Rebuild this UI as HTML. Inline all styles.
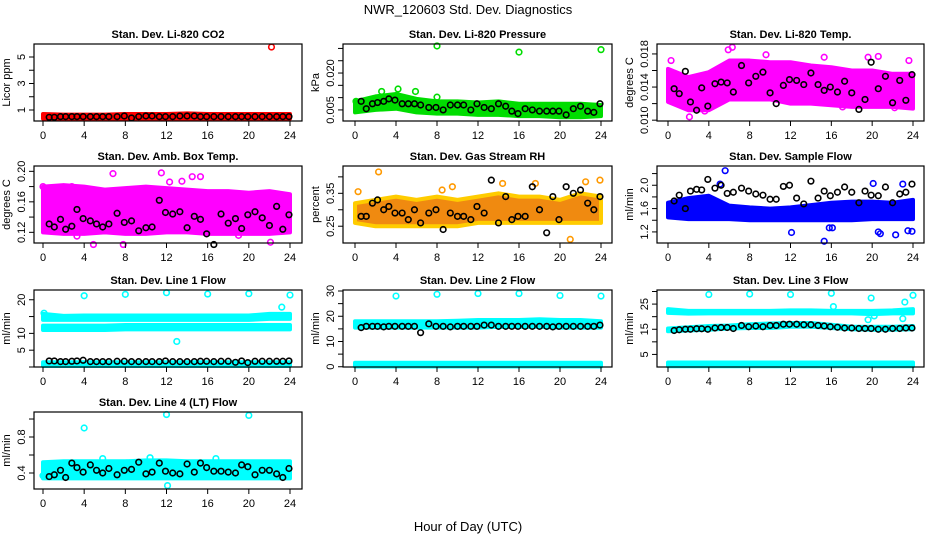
<!DOCTYPE html>
<html><head><meta charset="utf-8"><style>
body{margin:0;background:#fff}
svg{display:block;font-family:"Liberation Sans",sans-serif}
</style></head><body>
<svg id="c" width="936" height="540" viewBox="0 0 936 540">
<rect width="936" height="540" fill="#fff"/>
<text x="468" y="14" text-anchor="middle" font-size="13">NWR_120603  Std. Dev. Diagnostics</text>
<text x="468" y="531" text-anchor="middle" font-size="13">Hour of Day (UTC)</text>
</svg>
<script>
// shared hours
const bandHours = [0,2,4,6,8,10,12,14,16,18,20,22,24];
const blackHours = [0.6,1.1,1.7,2.2,2.8,3.3,3.9,4.6,5.2,5.8,6.4,7.2,7.9,8.6,9.3,10,10.6,11.3,11.9,12.6,13.3,14,14.7,15.3,15.9,16.6,17.3,18,18.7,19.3,19.9,20.6,21.3,22,22.7,23.3,23.9];
const xTicks = [0,4,8,12,16,20,24];

// CO2
const co2Lo = [0.35,0.35,0.35,0.35,0.35,0.35,0.35,0.35,0.35,0.35,0.35,0.35,0.35];
const co2Hi = [0.7,0.65,0.65,0.65,0.7,0.7,0.7,0.75,0.7,0.7,0.7,0.7,0.7];
const co2OutX = [22.2];
const co2OutY = [5.75];
const co2Black = [0.45,0.45,0.5,0.5,0.5,0.5,0.5,0.5,0.5,0.5,0.5,0.5,0.55,0.4,0.5,0.55,0.55,0.5,0.5,0.5,0.55,0.55,0.55,0.5,0.5,0.5,0.5,0.5,0.5,0.5,0.5,0.5,0.5,0.5,0.5,0.5,0.5];
// Pressure
const prLo = [0.004,0.005,0.0055,0.004,0.0035,0.0035,0.003,0.003,0.0025,0.0025,0.002,0.002,0.0025];
const prHi = [0.0085,0.0105,0.0115,0.0095,0.0085,0.0085,0.008,0.0085,0.0075,0.0075,0.0075,0.0075,0.007];
const prOutX = [8,16,24,4.2,5.9,2.6,8,0.1];
const prOutY = [0.031,0.0285,0.0295,0.0135,0.0125,0.0125,0.0102,0.0085];
const prBlack = [0.0085,0.0055,0.0075,0.008,0.0085,0.0095,0.009,0.0075,0.0075,0.0075,0.007,0.006,0.006,0.005,0.007,0.007,0.007,0.005,0.0075,0.006,0.0055,0.0075,0.0065,0.0045,0.0035,0.0055,0.005,0.0045,0.0045,0.0045,0.0045,0.003,0.0055,0.0065,0.0045,0.004,0.0075];
// Temp
const tLo = [0.0122,0.0112,0.0112,0.0125,0.0125,0.0125,0.012,0.012,0.0118,0.0116,0.0116,0.0116,0.0114];
const tHi = [0.0162,0.0152,0.0158,0.0172,0.0172,0.017,0.017,0.0166,0.0164,0.016,0.016,0.0156,0.0156];
const tOutX = [0.3,2.1,3.6,5.9,6.3,9.6,15.3,17.1,19.6,20.6,22.2,23.6];
const tOutY = [0.0172,0.0104,0.0111,0.0185,0.0188,0.0179,0.0176,0.0116,0.0176,0.0177,0.0115,0.0172];
const tBlack = [0.0138,0.0132,0.0159,0.0122,0.0112,0.0139,0.0117,0.0144,0.0146,0.0145,0.0134,0.0166,0.0145,0.0153,0.0158,0.0133,0.0120,0.0142,0.0149,0.0148,0.0143,0.0157,0.0143,0.0136,0.0140,0.0134,0.0147,0.0133,0.0113,0.0125,0.0170,0.0138,0.0153,0.0121,0.0148,0.0124,0.0155];
// Amb box
const aLo = [0.12,0.118,0.118,0.12,0.118,0.118,0.12,0.12,0.118,0.118,0.118,0.118,0.12];
const aHi = [0.18,0.182,0.18,0.176,0.178,0.18,0.178,0.176,0.174,0.174,0.172,0.174,0.17];
const aOutX = [0,2.8,4.9,6.8,7.8,11.5,12.3,13.5,14.5,15.3,19.0,22.1,3.3];
const aOutY = [0.18,0.18,0.104,0.197,0.104,0.198,0.186,0.187,0.193,0.193,0.116,0.107,0.115];
const aBlack = [0.131,0.127,0.137,0.124,0.128,0.150,0.138,0.135,0.131,0.127,0.131,0.145,0.133,0.135,0.122,0.126,0.127,0.162,0.146,0.144,0.147,0.126,0.141,0.137,0.118,0.104,0.144,0.132,0.138,0.125,0.143,0.147,0.139,0.129,0.154,0.124,0.143];
// RH
const rLo = [0.26,0.25,0.25,0.25,0.25,0.25,0.26,0.26,0.26,0.26,0.26,0.26,0.26];
const rHi = [0.32,0.33,0.34,0.33,0.34,0.33,0.34,0.35,0.34,0.34,0.33,0.35,0.34];
const rOutX = [2.3,8.5,9.5,14.4,17.6,21,22.5,23.9,0.3];
const rOutY = [0.415,0.36,0.37,0.38,0.38,0.21,0.385,0.39,0.355];
const rBlack = [0.28,0.28,0.32,0.33,0.30,0.31,0.29,0.29,0.27,0.30,0.26,0.29,0.30,0.24,0.29,0.28,0.28,0.27,0.31,0.29,0.39,0.26,0.34,0.27,0.28,0.28,0.37,0.30,0.23,0.34,0.27,0.37,0.35,0.36,0.32,0.30,0.34];
// Sample flow
const sLo = [1.45,1.42,1.42,1.42,1.4,1.4,1.4,1.4,1.4,1.4,1.42,1.42,1.42];
const sHi = [1.7,1.78,1.82,1.65,1.62,1.6,1.62,1.66,1.7,1.72,1.72,1.7,1.75];
const sOutX = [5.6,5.1,15.3,15.8,16.1,12.1,20.6,20.8,22.3,23.5,23.9,20.1,23.0];
const sOutY = [2.25,2.02,1.04,1.27,1.27,1.19,1.2,1.17,1.15,1.22,1.21,2.03,2.02];
const sBlack = [1.73,1.83,1.6,1.9,1.93,1.92,2.1,1.95,2.0,1.86,1.88,1.95,1.9,1.85,1.83,1.76,1.76,1.98,2.0,1.78,1.68,2.07,1.78,1.9,1.82,1.88,1.97,1.88,1.7,1.9,1.83,1.82,1.97,1.7,1.85,1.88,2.02];
// Line 1
const l1aLo = [14,14,14,14,14,14,14,14,14,14,14,14.3,14.3];
const l1aHi = [15.8,15.2,15.3,15.3,15.3,15.3,15.3,15.3,15.3,15.3,15.3,15.8,15.8];
const l1bLo = [11,11,11,11,11.2,11.2,11.2,11.2,11.2,11.2,11.2,11.2,11.2];
const l1bHi = [12.3,12.3,12.3,12.3,12.5,12.5,12.5,12.5,12.5,12.5,12.5,12.5,12.5];
const l1cLo = [0.3,0.3,0.3,0.3,0.3,0.3,0.3,0.3,0.3,0.3,0.3,0.3,0.3];
const l1cHi = [1.4,1.4,1.4,1.4,1.4,1.4,1.4,1.4,1.4,1.4,1.4,1.4,1.4];
const l1OutX = [4,8,12,16,20,24,13,23.2,0.1];
const l1OutY = [21.2,21.6,22.1,21.7,21.8,21.4,7.6,17.8,16];
const l1Black = [1.8,1.8,1.6,1.6,1.7,1.8,2,1.6,1.6,1.6,1.6,1.7,1.7,1.6,1.6,1.6,1.6,1.6,1.8,1.6,1.6,1.6,1.6,1.7,1.7,1.6,1.7,1.7,1.4,1.8,1.3,1.7,1.7,1.7,1.7,1.7,1.8];
// Line 2
const l2aLo = [15.5,15.5,15.5,15.5,15.5,15.5,15.5,15.8,15.8,15.8,15.5,15.5,15.5];
const l2aHi = [18,18,18,18,18,18.2,18.5,18.5,18.5,18.8,18.5,18.5,18];
const l2bLo = [0.1,0.1,0.1,0.1,0.1,0.1,0.1,0.1,0.1,0.1,0.1,0.1,0.1];
const l2bHi = [1.6,1.6,1.6,1.6,1.6,1.6,1.6,1.6,1.6,1.6,1.6,1.6,1.6];
const l2OutX = [4,8,12,16,20,24];
const l2OutY = [28,28.7,29,29,28.2,28];
const l2Black = [15.5,16,16,16,15.8,16,16,16,16,16,13.5,17,16,16,15.8,16,16,16,16,16.5,16.5,16,16,16,16,16,16,16,16,15.8,16,16,16,16,16,16,16.5];
// Line 3
const l3aLo = [21.5,21.2,21.3,21.3,21.3,21.3,21.3,21.3,21.3,21.3,21,21.3,21.3];
const l3aHi = [23,22.3,22.3,22.3,22.3,22.3,22.5,22.5,22.3,22.3,22.3,22.5,23];
const l3bLo = [14.2,14.5,14.8,15.3,15.5,15.5,16,16,15.5,15,14.8,14.8,15];
const l3bHi = [15.3,15.8,16.3,16.5,17,17.3,17.5,17.5,16.8,16,16,16,16.3];
const l3cLo = [0.3,0.3,0.3,0.3,0.3,0.3,0.3,0.3,0.3,0.3,0.3,0.3,0.3];
const l3cHi = [1.8,1.8,1.8,1.8,1.8,1.8,1.8,1.8,1.8,1.8,1.8,1.8,1.8];
const l3OutX = [4,8,12,16,16.2,19.9,19.6,23.2,24,23,20.2];
const l3OutY = [28.8,29,28.8,29.3,24,27.4,18.8,25.8,28.5,19.2,20.3];
const l3Black = [14.5,14.8,15,15,15.2,15.2,15,15.5,15.7,15.7,15.3,16.5,16,16.3,16,16.5,16.5,17,17,17,16.8,16.8,16.5,16.3,16,15.8,15.5,15.5,15.3,15.3,15.3,15,15,15.3,15.3,15.5,15.5];
// Line 4
const l4Lo = [0.34,0.34,0.34,0.34,0.34,0.34,0.34,0.34,0.34,0.34,0.34,0.34,0.34];
const l4Hi = [0.52,0.53,0.53,0.53,0.53,0.54,0.54,0.53,0.53,0.53,0.53,0.53,0.53];
const l4OutX = [4,12,20,12.1,16.8,5.8,10.4,0];
const l4OutY = [0.9,1.05,1.04,0.26,0.56,0.56,0.57,0.37];
const l4Black = [0.36,0.38,0.43,0.35,0.51,0.46,0.41,0.49,0.43,0.40,0.45,0.38,0.43,0.44,0.52,0.39,0.41,0.51,0.42,0.40,0.39,0.50,0.41,0.51,0.46,0.42,0.42,0.41,0.40,0.49,0.47,0.38,0.43,0.43,0.39,0.35,0.45];

const NS = "http://www.w3.org/2000/svg";
const svg = document.getElementById('c');
function mk(tag, attrs, parent){
  const e = document.createElementNS(NS, tag);
  for (const k in attrs) e.setAttribute(k, attrs[k]);
  (parent || svg).appendChild(e);
  return e;
}
const cols = [{l:34,r:302,x0:43,x24:290},{l:343,r:612,x0:355,x24:601},{l:657,r:924,x0:668,x24:913}];
const rows = [44,166,290,412];
const H = 77;

const panels = [
 {c:0,r:0,name:'co2',title:'Stan. Dev. Li-820 CO2',ylab:'Licor ppm',ymin:0.17,ymax:5.98,ticks:[1,2,3,4,5],labs:[1,3,5],fmt:v=>v,color:'#ff0000',bands:[[co2Lo,co2Hi]],ox:co2OutX,oy:co2OutY,blk:co2Black},
 {c:1,r:0,name:'pressure',title:'Stan. Dev. Li-820 Pressure',ylab:'kPa',ymin:0.0005,ymax:0.0318,ticks:[0.005,0.01,0.015,0.02,0.025,0.03],labs:[0.005,0.02],fmt:v=>v.toFixed(3),color:'#00dd00',bands:[[prLo,prHi]],ox:prOutX,oy:prOutY,blk:prBlack},
 {c:2,r:0,name:'temp',title:'Stan. Dev. Li-820 Temp.',ylab:'degrees C',ymin:0.0099,ymax:0.0192,ticks:[0.01,0.012,0.014,0.016,0.018],labs:[0.01,0.014,0.018],fmt:v=>v.toFixed(3),color:'#ff00ff',bands:[[tLo,tHi]],ox:tOutX,oy:tOutY,blk:tBlack},
 {c:0,r:1,name:'amb-box',title:'Stan. Dev. Amb. Box Temp.',ylab:'degrees C',ymin:0.106,ymax:0.207,ticks:[0.12,0.14,0.16,0.18,0.2],labs:[0.12,0.16,0.2],fmt:v=>v.toFixed(2),color:'#ff00ff',bands:[[aLo,aHi]],ox:aOutX,oy:aOutY,blk:aBlack},
 {c:1,r:1,name:'rh',title:'Stan. Dev. Gas Stream RH',ylab:'percent',ymin:0.199,ymax:0.433,ticks:[0.25,0.3,0.35,0.4],labs:[0.25,0.35],fmt:v=>v.toFixed(2),color:'#f5a000',bands:[[rLo,rHi]],ox:rOutX,oy:rOutY,blk:rBlack},
 {c:2,r:1,name:'sample-flow',title:'Stan. Dev. Sample Flow',ylab:'ml/min',ymin:1.01,ymax:2.33,ticks:[1.2,1.4,1.6,1.8,2.0,2.2],labs:[1.2,1.6,2.0],fmt:v=>v.toFixed(1),color:'#0000ff',bands:[[sLo,sHi]],ox:sOutX,oy:sOutY,blk:sBlack},
 {c:0,r:2,name:'line1',title:'Stan. Dev. Line 1 Flow',ylab:'ml/min',ymin:0.0,ymax:22.9,ticks:[0,5,10,15,20],labs:[5,10,20],fmt:v=>v,color:'#00ffff',bands:[[l1aLo,l1aHi],[l1bLo,l1bHi],[l1cLo,l1cHi]],ox:l1OutX,oy:l1OutY,blk:l1Black},
 {c:1,r:2,name:'line2',title:'Stan. Dev. Line 2 Flow',ylab:'ml/min',ymin:-0.1,ymax:30.4,ticks:[0,5,10,15,20,25,30],labs:[0,10,20,30],fmt:v=>v,color:'#00ffff',bands:[[l2aLo,l2aHi],[l2bLo,l2bHi]],ox:l2OutX,oy:l2OutY,blk:l2Black},
 {c:2,r:2,name:'line3',title:'Stan. Dev. Line 3 Flow',ylab:'ml/min',ymin:0.0,ymax:30.6,ticks:[5,10,15,20,25,30],labs:[5,15,25],fmt:v=>v,color:'#00ffff',bands:[[l3aLo,l3aHi],[l3bLo,l3bHi],[l3cLo,l3cHi]],ox:l3OutX,oy:l3OutY,blk:l3Black},
 {c:0,r:3,name:'line4',title:'Stan. Dev. Line 4 (LT) Flow',ylab:'ml/min',ymin:0.222,ymax:1.078,ticks:[0.4,0.6,0.8,1.0],labs:[0.4,0.8],fmt:v=>v.toFixed(1),color:'#00ffff',bands:[[l4Lo,l4Hi]],ox:l4OutX,oy:l4OutY,blk:l4Black}
];

panels.forEach(p=>{
  const col = cols[p.c], top = rows[p.r], bot = top + H;
  const xs = h => col.x0 + h*(col.x24-col.x0)/24;
  const ys = v => bot - (v-p.ymin)/(p.ymax-p.ymin)*H;
  const g = mk('g', {});
  
  
  const t = mk('text', {x:(col.l+col.r)/2, y:top-6, 'text-anchor':'middle','font-size':11,'font-weight':'bold'}, g);
  t.textContent = p.title;
  
  
  p.bands.forEach((b,bi)=>{
    let pts = bandHours.map((h,i)=>xs(h)+','+ys(b[1][i]));
    pts = pts.concat(bandHours.map((h,i)=>xs(h)+','+ys(b[0][i])).reverse());
    const poly = mk('polygon', {points:pts.join(' '), fill:p.color, stroke:p.color, 'stroke-width':4, 'stroke-linejoin':'round'}, g);
    
    
    if (p.name==='rh') { poly.setAttribute('fill','#f08a10'); poly.setAttribute('stroke','#ffcc00'); }
  });
  p.ox.forEach((h,i)=>{
    const c = mk('circle', {cx:xs(h), cy:ys(p.oy[i]), r:2.8, fill:'none', stroke:p.name==='rh'?'#ff9900':p.color, 'stroke-width':1.6}, g);
    
    
  });
  blackHours.forEach((h,i)=>{
    const c = mk('circle', {cx:xs(h), cy:ys(p.blk[i]), r:2.8, fill:'none', stroke:'#000', 'stroke-width':1.6}, g);
    
    
  });
  const box = mk('rect', {x:col.l, y:top, width:col.r-col.l, height:H, fill:'none', stroke:'#000', 'stroke-width':1.2}, g);
  
  
  xTicks.forEach(h=>{
    mk('line', {x1:xs(h), x2:xs(h), y1:bot, y2:bot+5, stroke:'#000'}, g);
    const tl = mk('text', {x:xs(h), y:bot+18, 'text-anchor':'middle','font-size':11}, g);
    tl.textContent = h;
    
    
  });
  p.ticks.forEach(v=>{
    const y = ys(v);
    if (y < top-3 || y > bot+1.5) return;
    mk('line', {x1:col.l-5, x2:col.l, y1:y, y2:y, stroke:'#000'}, g);
  });
  p.labs.forEach(v=>{
    const y = ys(v);
    const tl = mk('text', {x:col.l-9, y:y, 'text-anchor':'middle','font-size':11, transform:`rotate(-90 ${col.l-9} ${y})`}, g);
    tl.textContent = p.fmt(v);
    
    
  });
  const yl = mk('text', {x:col.l-24, y:top+H/2, 'text-anchor':'middle','font-size':11, transform:`rotate(-90 ${col.l-24} ${top+H/2})`}, g);
  yl.textContent = p.ylab;
  
  
});
</script>
</body></html>
